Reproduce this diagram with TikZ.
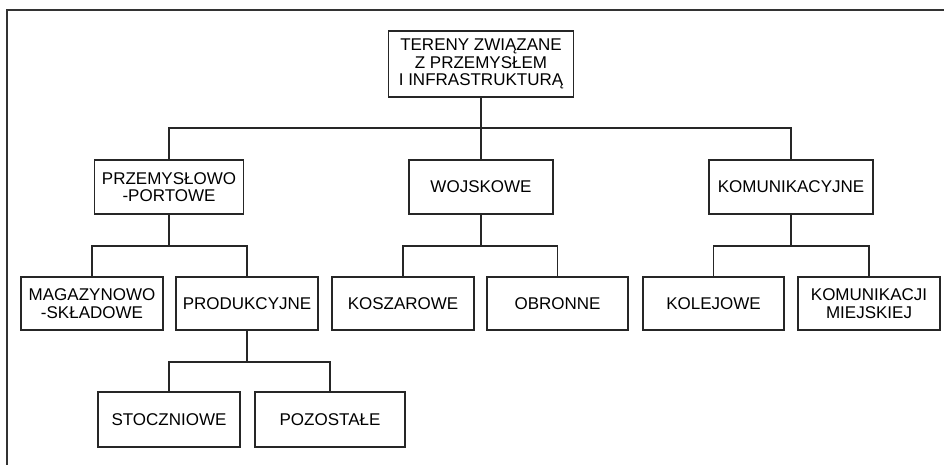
\documentclass[tikz,border=0pt]{standalone}
\usepackage{fontspec}
\setmainfont{Liberation Sans}
\begin{document}
\begin{tikzpicture}[x=1pt,y=-1pt,
  box/.style={draw=black!85, line width=1.4pt, align=center, inner sep=0pt,
    font=\fontsize{17}{17.5}\selectfont, text=black},
  conn/.style={draw=black!85, line width=1.4pt}]
\useasboundingbox (0,0) rectangle (944,465);
% frame
\draw[line width=1.8pt, black!80] (7,465) -- (7,10) -- (944,10);
% nodes
\node[box, minimum width=185pt, minimum height=66pt] (top) at (481,64) {TERENY ZWIĄZANE\\Z PRZEMYSŁEM\\I INFRASTRUKTURĄ};
\node[box, minimum width=149pt, minimum height=54pt] (p1) at (169,187) {PRZEMYSŁOWO\\-PORTOWE};
\node[box, minimum width=144pt, minimum height=54pt] (w) at (481,187) {WOJSKOWE};
\node[box, minimum width=164pt, minimum height=54pt] (k) at (791,187) {KOMUNIKACYJNE};
\node[box, minimum width=142pt, minimum height=53pt] (mag) at (92,303.5) {MAGAZYNOWO\\-SKŁADOWE};
\node[box, minimum width=142pt, minimum height=53pt] (prod) at (247,303.5) {PRODUKCYJNE};
\node[box, minimum width=142pt, minimum height=53pt] (kosz) at (403,303.5) {KOSZAROWE};
\node[box, minimum width=141pt, minimum height=53pt] (obr) at (557.5,303.5) {OBRONNE};
\node[box, minimum width=141pt, minimum height=53pt] (kol) at (713.5,303.5) {KOLEJOWE};
\node[box, minimum width=142pt, minimum height=53pt] (kmj) at (869,303.5) {KOMUNIKACJI\\MIEJSKIEJ};
\node[box, minimum width=142pt, minimum height=55pt] (stocz) at (169,419.5) {STOCZNIOWE};
\node[box, minimum width=150pt, minimum height=55pt] (poz) at (330,419.5) {POZOSTAŁE};
% junctions
\coordinate (j0) at (481,128);
\coordinate (j1) at (169,246);
\coordinate (j2) at (481,246);
\coordinate (j3) at (791,246);
\coordinate (j4) at (247,362);
% connectors
\draw[conn] (top.south) -- (j0);
\draw[conn] (p1.north) |- (j0) -| (k.north);
\draw[conn] (w.north) -- (j0);
\draw[conn] (p1.south) -- (j1);
\draw[conn] (mag.north) |- (j1) -| (prod.north);
\draw[conn] (w.south) -- (j2);
\draw[conn] (kosz.north) |- (j2) -| (obr.north);
\draw[conn] (k.south) -- (j3);
\draw[conn] (kol.north) |- (j3) -| (kmj.north);
\draw[conn] (prod.south) -- (j4);
\draw[conn] (stocz.north) |- (j4) -| (poz.north);
\end{tikzpicture}
\end{document}
